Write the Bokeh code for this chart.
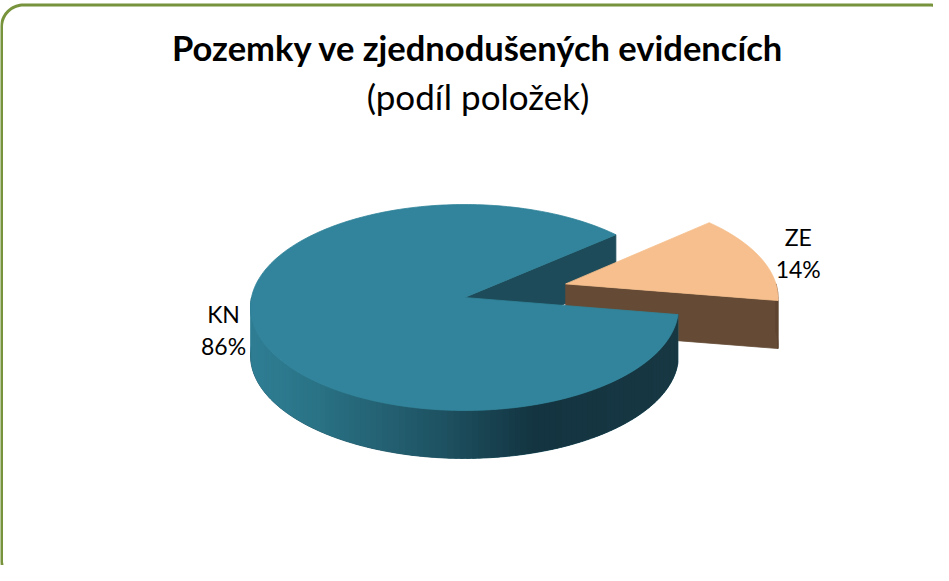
import numpy as np
from bokeh.plotting import figure
from bokeh.models import ColumnDataSource, Range1d
from bokeh.core.properties import value
from bokeh.embed import file_html
from bokeh.resources import INLINE

# ---------------- data ----------------
title_text = "Pozemky ve zjednodušených evidencích"
subtitle_text = "(podíl položek)"
categories = ["KN", "ZE"]
shares = [86, 14]
explode = [0.0, 0.5]

# ---------------- styles ----------------
top_colors = ["#31849B", "#F6BF8D"]
cut_colors = ["#1D4B59", "#654B36"]
rim_base = ["#1F5464", "#5E4532"]
rim_stops = [
    [(0.0, "#2F7E94"), (0.15, "#2A7386"), (0.45, "#1E5262"), (0.67, "#133440"), (1.0, "#173843")],
    [(0.0, "#5E4532"), (1.0, "#5E4532")],
]
label_r = [1.14, 1.20]
FONT = "Lato"

W, H = 933, 565
CX, CY = 464, 297
RX, RY = 213, 102
PERSP = 0.097
DEPTH = 48
START = -9.5  # degrees; slices laid out clockwise from here
STEP = 1.5


def hex2rgb(h):
    h = h.lstrip("#")
    return [int(h[i:i + 2], 16) for i in (0, 2, 4)]


def grad(stops, t):
    t = min(max(t, 0.0), 1.0)
    for (t0, c0), (t1, c1) in zip(stops[:-1], stops[1:]):
        if t <= t1:
            f = 0 if t1 == t0 else (t - t0) / (t1 - t0)
            a, b = hex2rgb(c0), hex2rgb(c1)
            return "#%02x%02x%02x" % tuple(int(round(a[k] + (b[k] - a[k]) * f)) for k in range(3))
    return stops[-1][1]


def proj(u, v, dz=0.0):
    w = 1 + PERSP * v
    return CX + RX * u / w, CY - RY * v / w + dz


p = figure(width=W, height=H, output_backend="svg", toolbar_location=None,
           x_range=Range1d(0, W), y_range=Range1d(H, 0), min_border=0)
p.axis.visible = False
p.grid.visible = False
p.outline_line_color = None
p.background_fill_color = "white"

# ---------------- rounded border ----------------
bl, bt, br, bb, rad = 1, 4.5, 951, 582, 22
bx, by = [], []
for (ccx, ccy, a0, a1) in [(bl + rad, bt + rad, 180, 270), (br - rad, bt + rad, 270, 360),
                           (br - rad, bb - rad, 0, 90), (bl + rad, bb - rad, 90, 180)]:
    aa = np.radians(np.linspace(a0, a1, 20))
    bx += list(ccx + rad * np.cos(aa))
    by += list(ccy + rad * np.sin(aa))
bx.append(bx[0]); by.append(by[0])
p.line(bx, by, line_color="#77933C", line_width=3)

# ---------------- 3D pie geometry ----------------
total = float(sum(shares))
slices = []
a_hi = START
for i, s in enumerate(shares):
    span = 360.0 * s / total
    a_lo = a_hi - span
    mid = np.radians((a_lo + a_hi) / 2)
    ou, ov = explode[i] * np.cos(mid), explode[i] * np.sin(mid)
    slices.append((a_lo, a_hi, mid, ou, ov))
    a_hi = a_lo

cut_xs, cut_ys, cut_c = [], [], []
base_xs, base_ys, base_c = [], [], []
rim_xs, rim_ys, rim_c = [], [], []
top_xs, top_ys, top_c = [], [], []

for i, (a_lo, a_hi, mid, ou, ov) in enumerate(slices):
    # cut faces (radial walls facing the viewer)
    for ang, vis in [(a_lo, np.cos(np.radians(a_lo)) > 0), (a_hi, np.cos(np.radians(a_hi)) < 0)]:
        if vis:
            r = np.radians(ang)
            c0 = proj(ou, ov)
            c1 = proj(ou + np.cos(r), ov + np.sin(r))
            cut_xs.append([c0[0], c1[0], c1[0], c0[0]])
            cut_ys.append([c0[1], c1[1], c1[1] + DEPTH, c0[1] + DEPTH])
            cut_c.append(cut_colors[i])
    # outer rim (front half only)
    angs = list(np.arange(a_lo, a_hi, STEP)) + [a_hi]
    k0 = int(np.ceil(a_lo / 180.0)); k1 = int(np.floor(a_hi / 180.0))
    angs = sorted(set(angs + [k * 180.0 for k in range(k0, k1 + 1)]))
    xl = proj(ou - 1, ov)[0]; xr = proj(ou + 1, ov)[0]
    vis_angs = []
    for a0, a1 in zip(angs[:-1], angs[1:]):
        am = np.radians((a0 + a1) / 2)
        if np.sin(am) >= 0:
            continue
        vis_angs.append((a0, a1))
        a1e = min(a1 + STEP * 0.6, a_hi)
        r0, r1 = np.radians(a0), np.radians(a1e)
        p0 = proj(ou + np.cos(r0), ov + np.sin(r0))
        p1 = proj(ou + np.cos(r1), ov + np.sin(r1))
        rim_xs.append([p0[0], p1[0], p1[0], p0[0]])
        rim_ys.append([p0[1], p1[1], p1[1] + DEPTH, p0[1] + DEPTH])
        t = ((p0[0] + p1[0]) / 2 - xl) / (xr - xl)
        rim_c.append(grad(rim_stops[i], t))
    if vis_angs:
        ra = np.radians(np.linspace(vis_angs[0][0], vis_angs[-1][1], 120))
        tp = [proj(ou + np.cos(a), ov + np.sin(a)) for a in ra]
        base_xs.append([q[0] for q in tp] + [q[0] for q in tp[::-1]])
        base_ys.append([q[1] for q in tp] + [q[1] + DEPTH for q in tp[::-1]])
        base_c.append(rim_base[i])
    # top face
    aa = np.radians(np.linspace(a_lo, a_hi, 240))
    c0 = proj(ou, ov)
    pts = [proj(ou + np.cos(a), ov + np.sin(a)) for a in aa]
    top_xs.append([c0[0]] + [q[0] for q in pts])
    top_ys.append([c0[1]] + [q[1] for q in pts])
    top_c.append(top_colors[i])

p.patches("xs", "ys", source=ColumnDataSource(dict(xs=cut_xs, ys=cut_ys, c=cut_c)),
          fill_color="c", line_color="c", line_width=0.8)
p.patches("xs", "ys", source=ColumnDataSource(dict(xs=base_xs, ys=base_ys, c=base_c)),
          fill_color="c", line_color="c", line_width=0.8)
p.patches("xs", "ys", source=ColumnDataSource(dict(xs=rim_xs, ys=rim_ys, c=rim_c)),
          fill_color="c", line_color=None)
p.patches("xs", "ys", source=ColumnDataSource(dict(xs=top_xs, ys=top_ys, c=top_c)),
          fill_color="c", line_color="c", line_width=0.8)

# ---------------- labels ----------------
lx, ly, ln, lp = [], [], [], []
for i, (a_lo, a_hi, mid, ou, ov) in enumerate(slices):
    q = proj(ou + label_r[i] * np.cos(mid), ov + label_r[i] * np.sin(mid))
    lx.append(q[0]); ly.append(q[1])
    ln.append(categories[i]); lp.append(f"{shares[i]}%")
src = ColumnDataSource(dict(x=lx, y1=[y - 16 for y in ly], y2=[y + 16 for y in ly], n=ln, pc=lp))
p.text("x", "y1", text="n", source=src, text_align="center", text_baseline="middle",
       text_font=value(FONT), text_font_size="23px", text_color="#000000")
p.text("x", "y2", text="pc", source=src, text_align="center", text_baseline="middle",
       text_font=value(FONT), text_font_size="23px", text_color="#000000")

# ---------------- titles ----------------
p.text([477.5], [46.5], text=[title_text], text_align="center", text_baseline="middle",
       text_font=value(FONT), text_font_style="bold", text_font_size="34.5px", text_color="#000000")
p.text([477.5], [95], text=[subtitle_text], text_align="center", text_baseline="middle",
       text_font=value(FONT), text_font_size="35px", text_color="#000000")

open("out.html", "w").write(file_html(p, INLINE))
